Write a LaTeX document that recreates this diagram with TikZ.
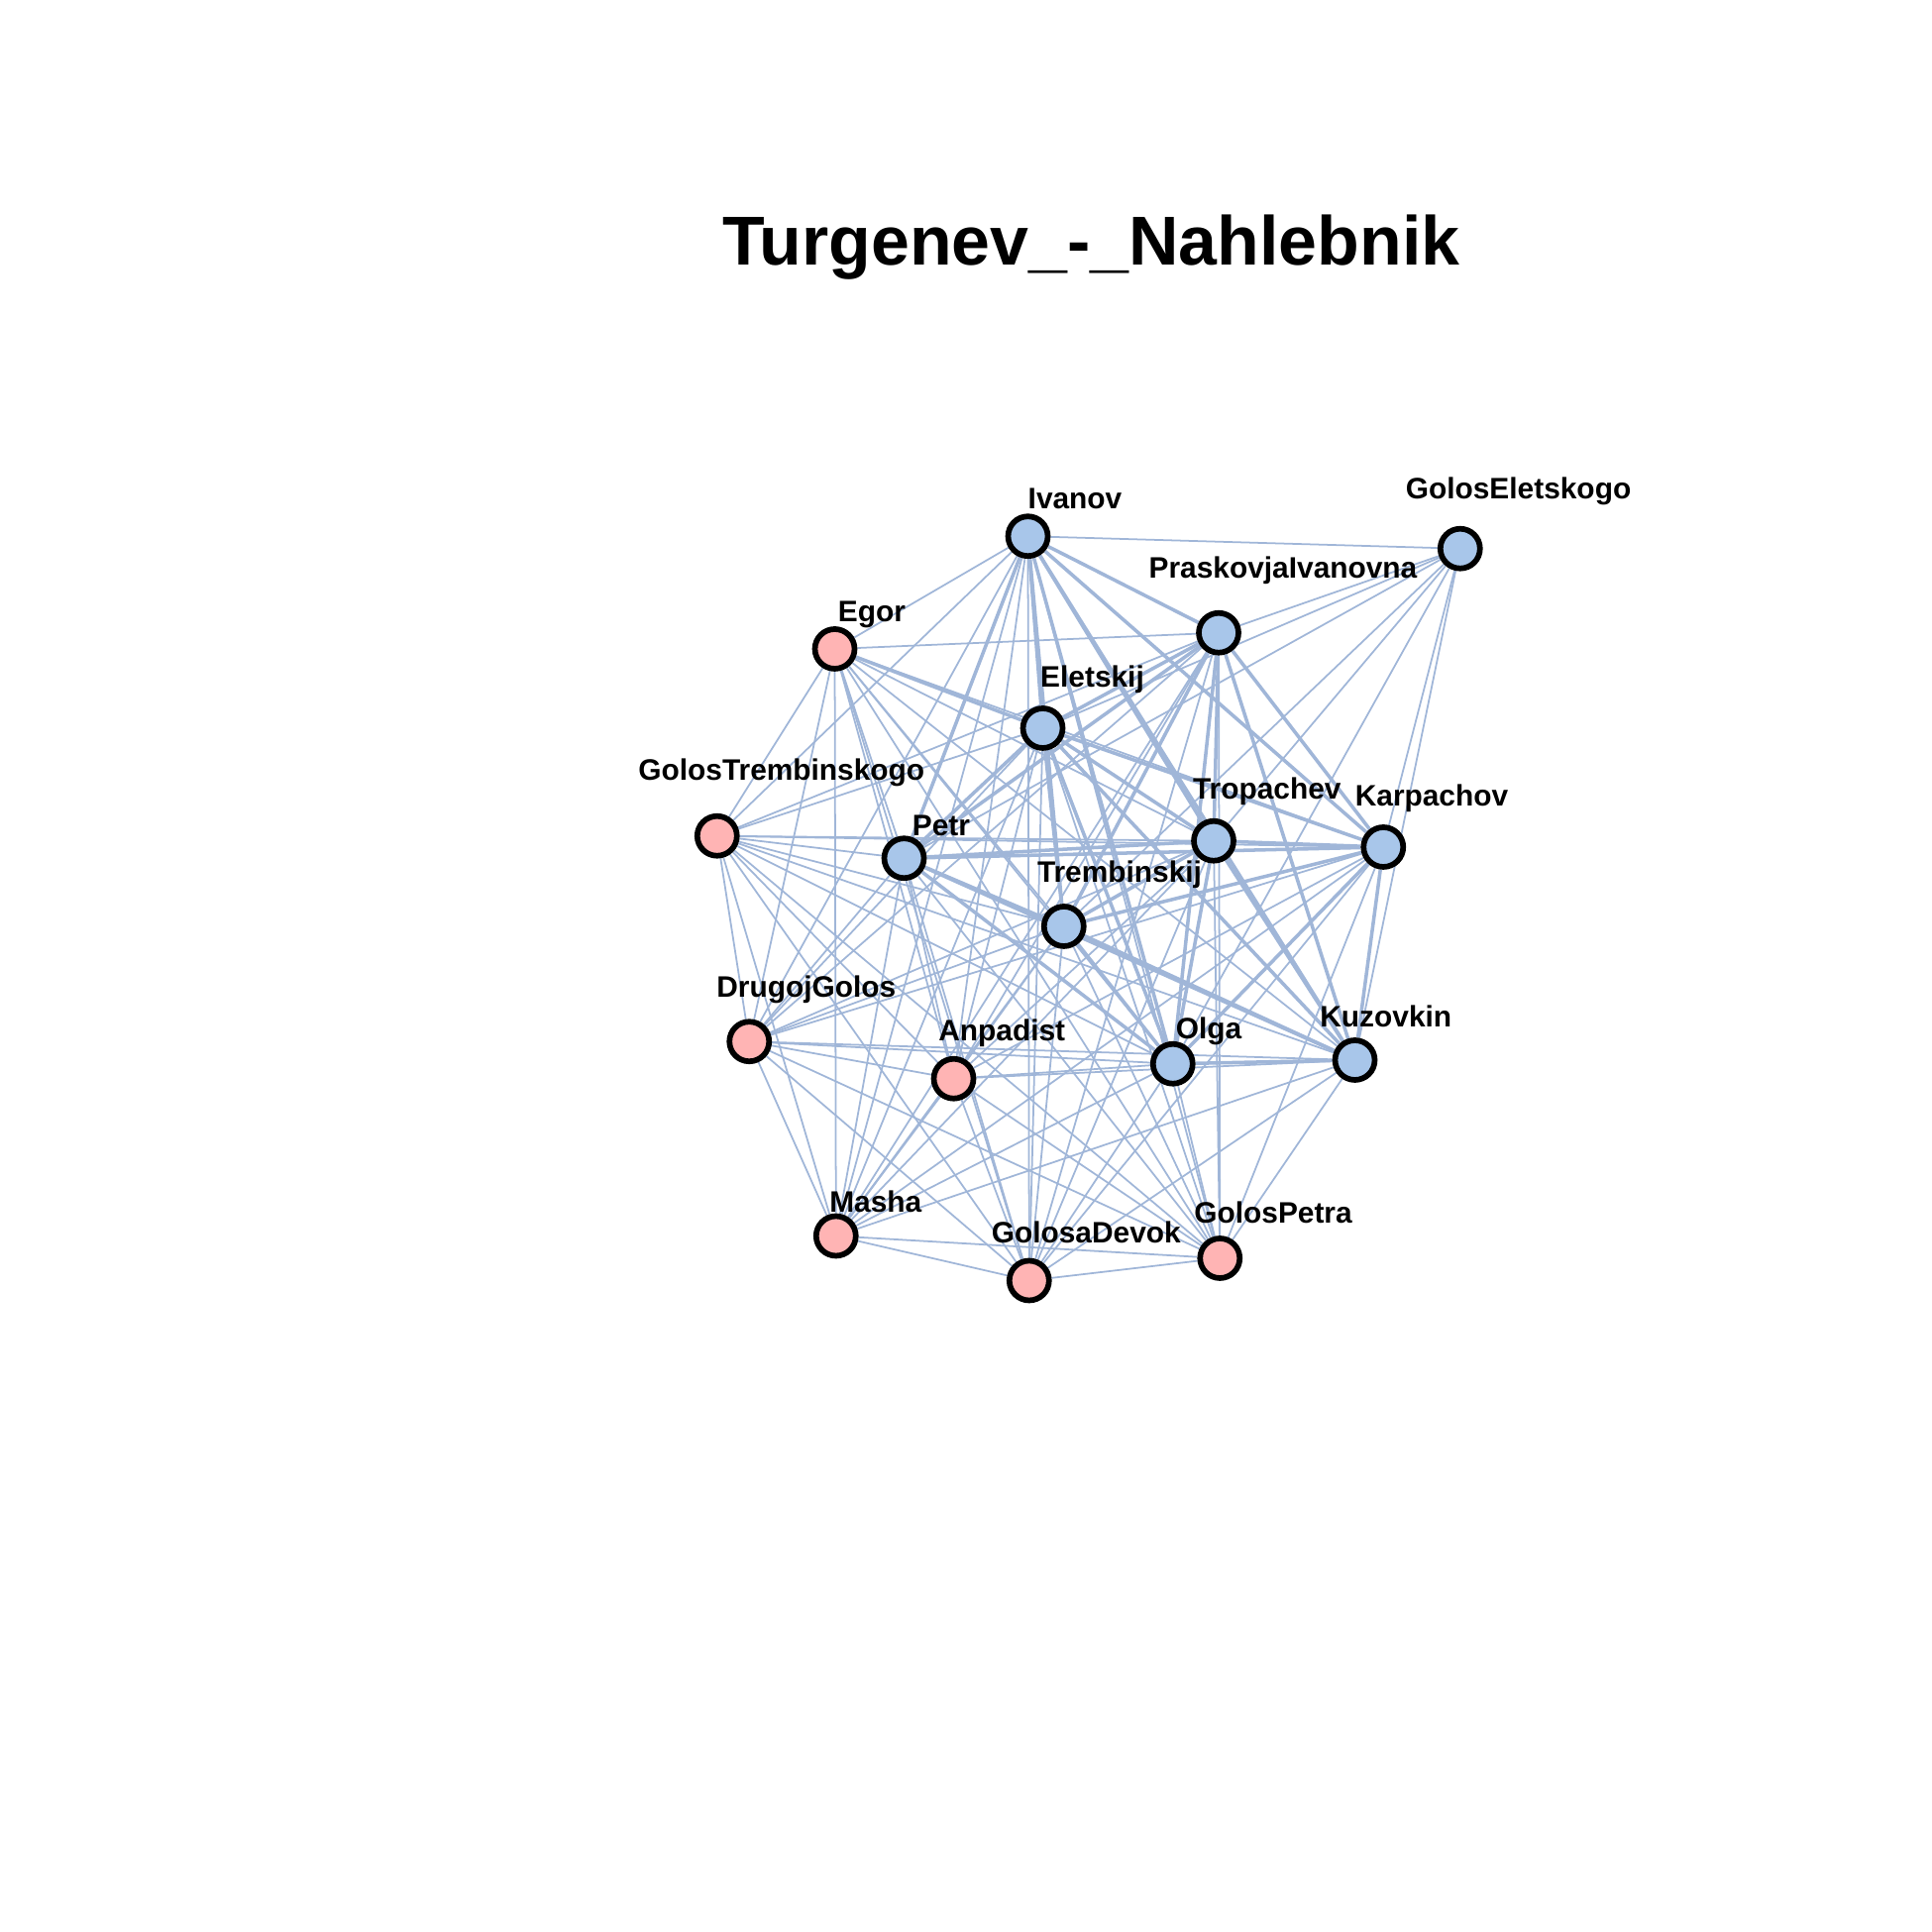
\documentclass[tikz,border=0pt]{standalone}
\usepackage{fontspec}
\setmainfont{Liberation Sans}
\usepackage{xcolor}
\usepackage{tikz}
\usetikzlibrary{shapes}
\usetikzlibrary{positioning}
\pgfdeclarelayer{edgelayer}
\pgfsetlayers{edgelayer,main}
\definecolor{nblue}{HTML}{A8C6EA}
\definecolor{npink}{HTML}{FFB4B4}
\definecolor{ecol}{HTML}{A0B6D8}
\tikzset{
    pnode/.style = {circle, draw=black, line width=1.3pt, fill=nblue, minimum size=0.32cm, inner sep=0pt},
    pnoder/.style = {circle, draw=black, line width=1.3pt, fill=npink, minimum size=0.32cm, inner sep=0pt},
    lab/.style = {inner sep=0pt, font=\fontsize{6.8}{8}\selectfont\bfseries},
}

\begin{document}
\begin{tikzpicture}[
	font=\bfseries
]
\tikzset{
    edgen/.style = {-, line width=0.4pt, ecol},
    edgeb/.style = {-, line width=0.8pt, ecol},
}
\useasboundingbox (0,0) rectangle (15.6,15.6);
\node[inner sep=0pt, font=\fontsize{15.9}{18}\selectfont\bfseries] (title) at (8.81,13.60) {Turgenev\_-\_Nahlebnik};
%
\node[pnode] at (8.30,11.27) (iv) {};
\node[pnode] at (11.79,11.17) (ge) {};
\node[pnode] at (9.84,10.49) (pi) {};
\node[pnoder] at (6.74,10.36) (eg) {};
\node[pnode] at (8.42,9.72) (el) {};
\node[pnoder] at (5.79,8.85) (gt) {};
\node[pnode] at (7.30,8.67) (pe) {};
\node[pnode] at (9.80,8.81) (tr) {};
\node[pnode] at (11.17,8.76) (ka) {};
\node[pnode] at (8.59,8.12) (tb) {};
\node[pnoder] at (6.05,7.19) (dg) {};
\node[pnoder] at (7.70,6.89) (an) {};
\node[pnode] at (9.47,7.01) (ol) {};
\node[pnode] at (10.94,7.04) (ku) {};
\node[pnoder] at (6.75,5.62) (ma) {};
\node[pnoder] at (8.31,5.26) (gd) {};
\node[pnoder] at (9.85,5.44) (gp) {};
%
\begin{pgfonlayer}{edgelayer}
\draw[edgeb] (iv) edge (el) edge (pi) edge (tr) edge (ka) edge (ku) edge (ol) edge (pe) edge (tb);
\draw[edgeb] (pi) edge (el) edge (pe) edge (tr) edge (ka) edge (ol) edge (ku) edge (tb);
\draw[edgeb] (el) edge (pe) edge (tr) edge (ka) edge (ol) edge (ku) edge (tb) edge (eg);
\draw[edgeb] (pe) edge (tr) edge (ka) edge (tb) edge (ku) edge (ol);
\draw[edgeb] (tr) edge (ka) edge (ku) edge (ol) edge (tb);
\draw[edgeb] (ka) edge (tb) edge (ol) edge (ku);
\draw[edgeb] (tb) edge (ku) edge (ol);
\draw[edgeb] (ol) edge (ku);
%
\draw[edgen] (iv) edge (ge) edge (eg) edge (gt) edge (dg) edge (an) edge (ma) edge (gd) edge (gp);
\draw[edgen] (ge) edge (pi) edge (el) edge (pe) edge (tr) edge (ka) edge (tb) edge (ol) edge (ku);
\draw[edgen] (pi) edge (eg) edge (gt) edge (dg) edge (an) edge (ma) edge (gd) edge (gp);
\draw[edgen] (eg) edge (gt) edge (pe) edge (tr) edge (ka) edge (tb) edge (dg) edge (an) edge (ol) edge (ku) edge (ma) edge (gd) edge (gp);
\draw[edgen] (el) edge (gt) edge (dg) edge (an) edge (ma) edge (gd) edge (gp);
\draw[edgen] (gt) edge (pe) edge (tr) edge (ka) edge (tb) edge (dg) edge (an) edge (ol) edge (ku) edge (ma) edge (gd) edge (gp);
\draw[edgen] (pe) edge (dg) edge (an) edge (ma) edge (gd) edge (gp);
\draw[edgen] (tr) edge (dg) edge (an) edge (ma) edge (gd) edge (gp);
\draw[edgen] (ka) edge (dg) edge (an) edge (ma) edge (gd) edge (gp);
\draw[edgen] (tb) edge (dg) edge (an) edge (ma) edge (gd) edge (gp);
\draw[edgen] (dg) edge (an) edge (ol) edge (ku) edge (ma) edge (gd) edge (gp);
\draw[edgen] (an) edge (ol) edge (ku) edge (ma) edge (gd) edge (gp);
\draw[edgen] (ol) edge (ma) edge (gd) edge (gp);
\draw[edgen] (ku) edge (ma) edge (gd) edge (gp);
\draw[edgen] (ma) edge (gd) edge (gp);
\draw[edgen] (gd) edge (gp);
\end{pgfonlayer}
%
\node[lab] at (8.68,11.57) (iv-l) {Ivanov};
\node[lab] at (12.26,11.63) (ge-l) {GolosEletskogo};
\node[lab] at (10.36,10.99) (pi-l) {PraskovjaIvanovna};
\node[lab] at (7.04,10.64) (eg-l) {Egor};
\node[lab] at (8.82,10.11) (el-l) {Eletskij};
\node[lab] at (6.31,9.36) (gt-l) {GolosTrembinskogo};
\node[lab] at (7.60,8.93) (pe-l) {Petr};
\node[lab] at (10.23,9.21) (tr-l) {Tropachev};
\node[lab] at (11.56,9.15) (ka-l) {Karpachov};
\node[lab] at (9.04,8.54) (tb-l) {Trembinskij};
\node[lab] at (6.51,7.61) (dg-l) {DrugojGolos};
\node[lab] at (8.09,7.26) (an-l) {Anpadist};
\node[lab] at (9.76,7.27) (ol-l) {Olga};
\node[lab] at (11.19,7.39) (ku-l) {Kuzovkin};
\node[lab] at (7.07,5.90) (ma-l) {Masha};
\node[lab] at (8.77,5.65) (gd-l) {GolosaDevok};
\node[lab] at (10.28,5.81) (gp-l) {GolosPetra};
\end{tikzpicture}
\end{document}
